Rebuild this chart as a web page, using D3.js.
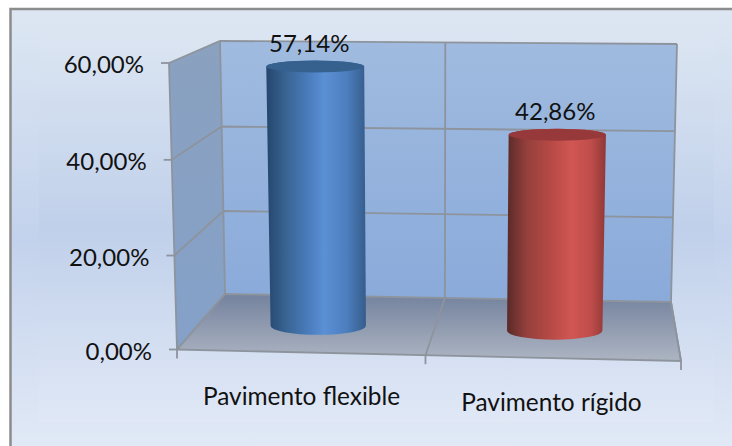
<!DOCTYPE html>
<html><head><meta charset="utf-8">
<script src="https://cdn.jsdelivr.net/npm/d3@7/dist/d3.min.js"></script>
<style>html,body{margin:0;padding:0;background:#fff}svg{display:block}text{font-family:Lato,"Open Sans",sans-serif;fill:#111}</style>
</head><body><div id="c"></div>
<script>
const categories = ["Pavimento flexible", "Pavimento rígido"];
const values = [57.14, 42.86];
const valueLabels = ["57,14%", "42,86%"];
const axisTicks = [0, 20, 40, 60];
const tickLabels = ["0,00%", "20,00%", "40,00%", "60,00%"];

const W = 732, H = 446;
const svg = d3.select("#c").append("svg").attr("width", W).attr("height", H);
const defs = svg.append("defs");
function grad(id, stops, horiz) {
  const g = defs.append("linearGradient").attr("id", id)
    .attr("x1", 0).attr("y1", 0).attr("x2", horiz ? 1 : 0).attr("y2", horiz ? 0 : 1);
  stops.forEach(s => g.append("stop").attr("offset", s[0]).attr("stop-color", s[1]));
}
grad("bg", [[0, "#dde7f3"], [0.53, "#c3d2ec"], [1, "#e1e9f6"]]);
grad("bgIn", [[0, "#dbe5f2"], [0.5, "#c0d0ea"], [1, "#e0e8f6"]]);
grad("back", [[0, "#a0bbdf"], [1, "#8aaada"]]);
grad("side", [[0, "#8aa1bf"], [1, "#85a1c9"]]);
grad("floor", [[0, "#74829e"], [1, "#adb5c2"]]);
grad("blue", [[0, "#24466e"], [0.18, "#37618f"], [0.48, "#4f83c6"], [0.58, "#5b90d5"], [0.8, "#4d7fbf"], [0.95, "#3c6699"], [1, "#355c8c"]], true);
grad("red", [[0, "#5a2a28"], [0.2, "#95403c"], [0.45, "#b84a46"], [0.65, "#d05653"], [0.85, "#c04d4a"], [1, "#8e3836"]], true);

// Eight corners of the 3D plot box
const C = {
  fl0: [177, 349.5], fl1: [169, 63], fr0: [681, 361], fr1: [689, 66],
  bl0: [225, 294], bl1: [220, 41], br0: [671, 302], br1: [677, 44]
};
const lerp = (a, b, t) => [a[0] + (b[0] - a[0]) * t, a[1] + (b[1] - a[1]) * t];
const yScale = d3.scaleLinear().domain([0, 20, 40, 60]).range([0, 0.328, 0.662, 1]);
const xScale = d3.scaleBand().domain(categories).range([0.001, 0.993]);
function P(u, v, w) {
  const f0 = lerp(C.fl0, C.fr0, u), f1 = lerp(C.fl1, C.fr1, u);
  const b0 = lerp(C.bl0, C.br0, u), b1 = lerp(C.bl1, C.br1, u);
  return lerp(lerp(f0, f1, v), lerp(b0, b1, v), w);
}
const line = d3.line();
const poly = pts => line(pts) + "Z";

// background
svg.append("rect").attr("x", 10).attr("y", 8).attr("width", W - 10).attr("height", H - 8).attr("fill", "url(#bg)");
svg.append("rect").attr("x", 39).attr("y", 36).attr("width", 675).attr("height", 387).attr("fill", "url(#bgIn)");
svg.append("path").attr("d", line([[10.5, H], [10.5, 9], [W, 9]])).attr("fill", "none").attr("stroke", "#8c8c8c").attr("stroke-width", 2.5);

const gridCol = "#8d949d";
// walls
svg.append("path").attr("d", poly([P(0,0,1), P(1,0,1), P(1,1,1), P(0,1,1)])).attr("fill", "url(#back)");
svg.append("path").attr("d", poly([P(0,0,0), P(0,0,1), P(0,1,1), P(0,1,0)])).attr("fill", "url(#side)");
svg.append("path").attr("d", poly([P(0,0,0), P(1,0,0), P(1,0,1), P(0,0,1)])).attr("fill", "url(#floor)");

const grid = svg.append("g").attr("fill", "none").attr("stroke", gridCol).attr("stroke-width", 1.8);
axisTicks.forEach(t => {
  const v = yScale(t);
  grid.append("path").attr("d", line([P(0,v,0), P(0,v,1), P(1,v,1)]));
  const a = P(0, v, 0);
  grid.append("path").attr("d", line([[a[0] - 8, a[1]], a]));
});
const catEdges = [0, 0.493, 1];
catEdges.forEach(u => {
  grid.append("path").attr("d", line([P(u,0,0), P(u,0,1), P(u,1,1)]));
  const a = P(u, 0, 0);
  grid.append("path").attr("d", line([a, [a[0], a[1] + 9]]));
});
grid.append("path").attr("d", line([P(0,0,0), P(0,1,0)]));
grid.append("path").attr("d", line([P(0,0,0), P(1,0,0), P(1,0,1)]));

// tick labels
svg.append("g").selectAll("text").data(axisTicks).join("text")
  .attr("x", d => P(0, yScale(d), 0)[0] - 25)
  .attr("y", d => P(0, yScale(d), 0)[1] + 10)
  .attr("text-anchor", "end").attr("font-size", 24)
  .text((d, i) => tickLabels[i]);

// cylinders
const depth = 0.47, halfW = 0.1;
categories.forEach((c, i) => {
  const u = xScale(c) + xScale.bandwidth() / 2;
  const v = yScale(values[i]);
  const bc = P(u, 0, depth), tc = P(u, v, depth);
  const brx = (P(u + halfW, 0, depth)[0] - P(u - halfW, 0, depth)[0]) / 2;
  const trx = (P(u + halfW, v, depth)[0] - P(u - halfW, v, depth)[0]) / 2;
  const bry = 9, tr = 6;
  const fill = i === 0 ? "url(#blue)" : "url(#red)";
  const top = i === 0 ? "#36618f" : "#97393a";
  const d = `M${bc[0]-brx},${bc[1]}A${brx},${bry} 0 0 0 ${bc[0]+brx},${bc[1]}L${tc[0]+trx},${tc[1]}A${trx},${tr} 0 0 0 ${tc[0]-trx},${tc[1]}Z`;
  svg.append("path").attr("d", d).attr("fill", fill);
  svg.append("ellipse").attr("cx", tc[0]).attr("cy", tc[1]).attr("rx", trx).attr("ry", tr).attr("fill", top);
  svg.append("text").attr("x", tc[0] - (i === 0 ? 6 : 2)).attr("y", tc[1] - 15)
    .attr("text-anchor", "middle").attr("font-size", 24).text(valueLabels[i]);
  const f = P(u, 0, 0);
  svg.append("text").attr("x", f[0] - 1).attr("y", f[1] + 53)
    .attr("text-anchor", "middle").attr("font-size", 24.4).text(c);
});
</script></body></html>
